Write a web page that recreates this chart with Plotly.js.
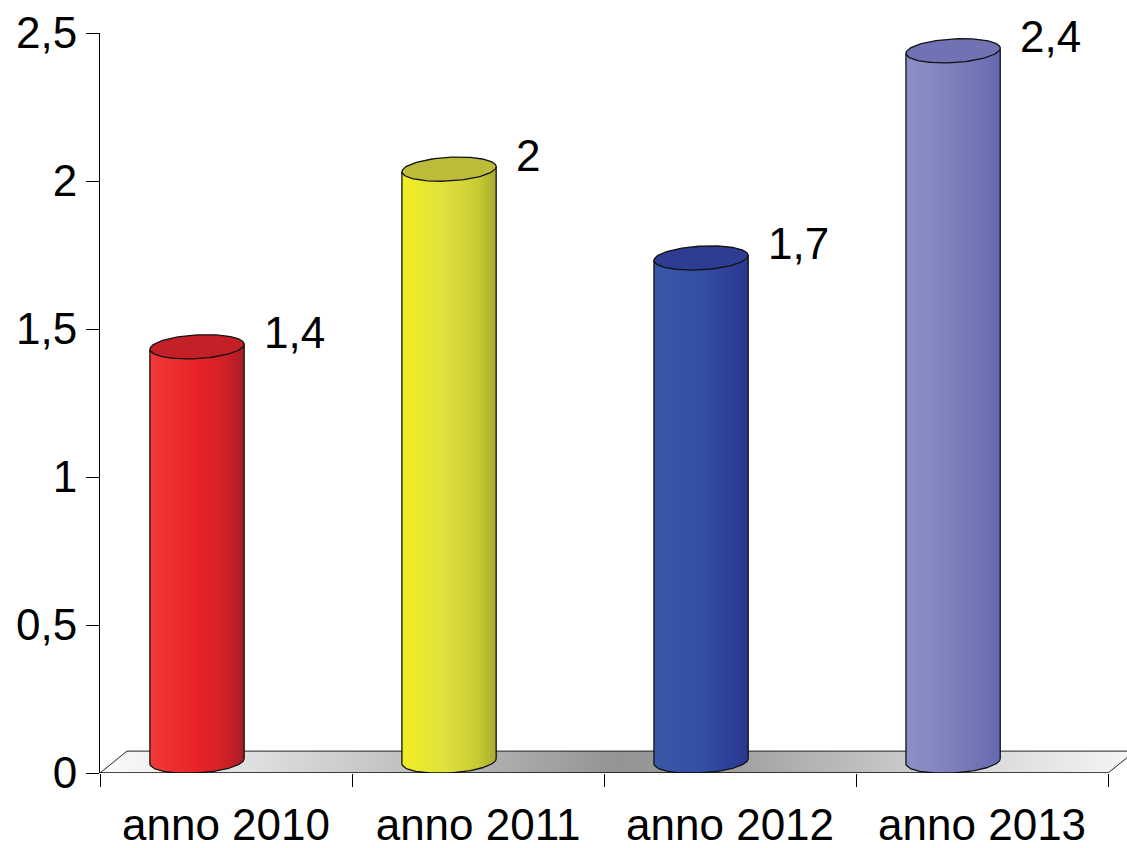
<!DOCTYPE html>
<html>
<head>
<meta charset="utf-8">
<script src="https://cdn.plot.ly/plotly-3.0.1.min.js"></script>
<style>html,body{margin:0;padding:0;background:#fff;}#chart{width:1127px;height:848px;}</style>
</head>
<body>
<div id="chart"></div>
<script>
// ---- data ----
const categories = ["anno 2010", "anno 2011", "anno 2012", "anno 2013"];
const values = [1.4, 2, 1.7, 2.4];
const valueLabels = ["1,4", "2", "1,7", "2,4"];
const yTickVals = [0, 0.5, 1, 1.5, 2, 2.5];
const yTickText = ["0", "0,5", "1", "1,5", "2", "2,5"];
const bodyScales = [
  [[0, "#f03a3a"], [0.5, "#e82226"], [0.8, "#d02028"], [1, "#a81c24"]],
  [[0, "#f2ee22"], [0.45, "#dfe040"], [0.8, "#c8cc34"], [1, "#a8aa30"]],
  [[0, "#3a58a8"], [0.5, "#3250a2"], [1, "#2a3690"]],
  [[0, "#8c90c6"], [0.5, "#7e80bc"], [1, "#6668ae"]]
];
const topColors = ["#c42028", "#bcbc3a", "#2e3c92", "#7072b4"];

// ---- geometry (in axis units) ----
const xShift = -0.115;   // cylinder centre offset from category centre
const halfW = 0.187;     // cylinder radius (x units)
const ellB = 0.040;      // ellipse half-height (y units)
const tilt = 0.0085;     // ellipse tilt (y units)
const depthY = 0.040;    // cylinder base raised onto floor
const floorDx = 0.107, floorDy = 0.074;
const N = 60;

const traces = [];
// floor
traces.push({
  type: "scatter", mode: "lines", hoverinfo: "skip", showlegend: false,
  x: [-0.5, categories.length - 0.5, categories.length - 0.5 + floorDx, -0.5 + floorDx, -0.5],
  y: [0, 0, floorDy, floorDy, 0],
  fill: "toself",
  fillgradient: {type: "horizontal", colorscale: [[0, "#fbfbfb"], [0.12, "#e4e4e4"], [0.3, "#c0c0c0"], [0.5, "#949494"], [0.62, "#a2a2a2"], [0.8, "#cfcfcf"], [1, "#f6f6f6"]]},
  line: {color: "#222", width: 1}
});

values.forEach((v, i) => {
  const cx = i + xShift;
  const yb = depthY, yt = v + depthY;
  // body
  const bx = [cx - halfW, cx + halfW], by = [yt - tilt, yt + tilt];
  bx.push(cx + halfW); by.push(yb + tilt);
  for (let k = 0; k <= N; k++) {
    const th = -Math.PI * k / N;
    bx.push(cx + halfW * Math.cos(th));
    by.push(yb + ellB * Math.sin(th) + tilt * Math.cos(th));
  }
  bx.push(cx - halfW); by.push(yt - tilt);
  traces.push({
    type: "scatter", mode: "lines", hoverinfo: "skip", showlegend: false,
    x: bx, y: by, fill: "toself",
    fillgradient: {type: "horizontal", colorscale: bodyScales[i]},
    line: {color: "#111", width: 1.3}
  });
  // top ellipse
  const ex = [], ey = [];
  for (let k = 0; k <= 2 * N; k++) {
    const th = Math.PI * k / N;
    ex.push(cx + halfW * Math.cos(th));
    ey.push(yt + ellB * Math.sin(th) + tilt * Math.cos(th));
  }
  traces.push({
    type: "scatter", mode: "lines", hoverinfo: "skip", showlegend: false,
    x: ex, y: ey, fill: "toself", fillcolor: topColors[i],
    line: {color: "#111", width: 1.3}
  });
});

const annotations = values.map((v, i) => ({
  x: i + xShift + halfW, y: v + depthY, xref: "x", yref: "y",
  text: valueLabels[i], showarrow: false, xanchor: "left", yanchor: "middle",
  xshift: 18, yshift: 14,
  font: {family: "Liberation Sans, Arial, sans-serif", size: 44, color: "#000"}
}));

const font = {family: "Liberation Sans, Arial, sans-serif", size: 44, color: "#000"};
const layout = {
  width: 1127, height: 848,
  margin: {l: 100, r: 0, t: 33, b: 75, pad: 0},
  paper_bgcolor: "#fff", plot_bgcolor: "rgba(0,0,0,0)",
  showlegend: false,
  font: font,
  xaxis: {
    range: [-0.5, categories.length - 0.5 + 0.075],
    tickmode: "array", tickvals: categories.map((c, i) => i), ticktext: categories,
    ticks: "", showgrid: false, zeroline: false, showline: false,
    tickfont: font, fixedrange: true, ticklabelstandoff: 22,
    minor: {tickmode: "array", tickvals: categories.map((c, i) => i - 0.5).concat([categories.length - 0.5]),
            ticks: "outside", ticklen: 13, tickwidth: 1, tickcolor: "#000", showgrid: false}
  },
  yaxis: {
    range: [0, 2.5], tickmode: "array", tickvals: yTickVals, ticktext: yTickText,
    ticks: "outside", ticklen: 13, tickwidth: 1, tickcolor: "#000",
    showline: true, linecolor: "#000", linewidth: 1,
    showgrid: false, zeroline: false, tickfont: font, fixedrange: true
  },
  shapes: [{type: "line", xref: "x", yref: "y", x0: -0.5, x1: categories.length - 0.5, y0: 0, y1: 0,
            line: {color: "#000", width: 1}}],
  annotations: annotations
};

Plotly.newPlot("chart", traces, layout, {displayModeBar: false, staticPlot: true});
</script>
</body>
</html>
